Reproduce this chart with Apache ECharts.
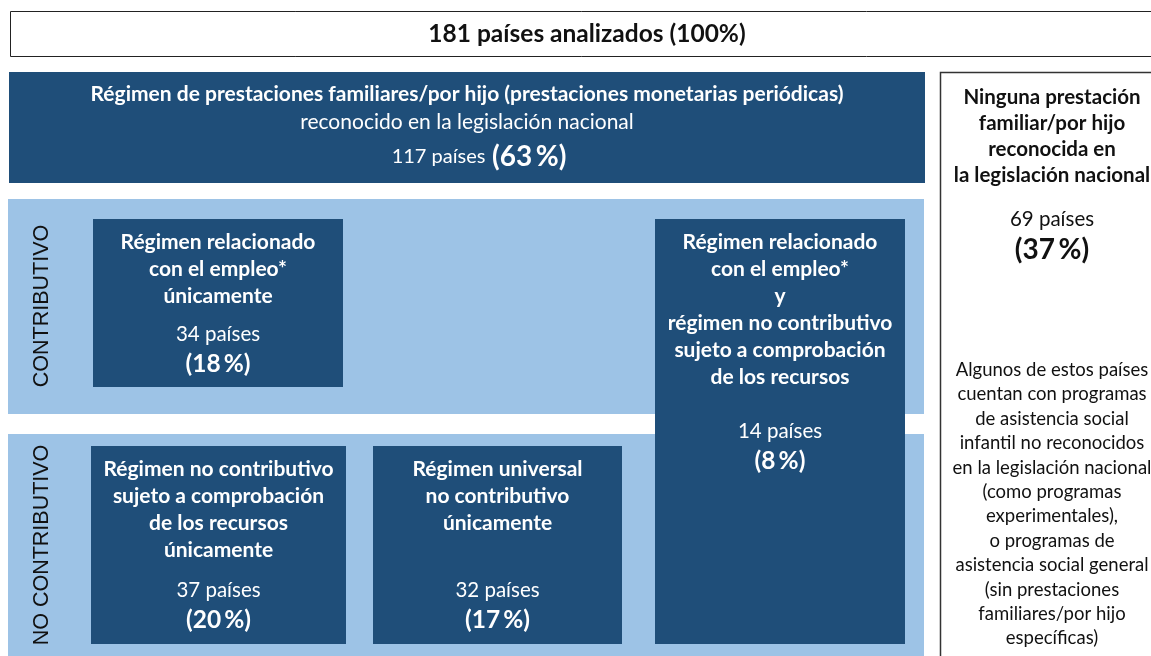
<!DOCTYPE html>
<html>
<head>
<meta charset="utf-8">
<script src="https://cdn.jsdelivr.net/npm/echarts@6/dist/echarts.min.js"></script>
<style>
  html, body {margin: 0; padding: 0; background: #fff;}
  #chart {width: 1151px; height: 656px;}
</style>
</head>
<body>
<div id="chart"></div>
<script>
// data
const analysedTitle = '181 países analizados (100%)';
const schemeTitle = 'Régimen de prestaciones familiares/por hijo (prestaciones monetarias periódicas)';
const schemeSubtitle = 'reconocido en la legislación nacional';
const schemeCount = 117;
const schemePercent = 63;

const groupLabels = ['CONTRIBUTIVO', 'NO CONTRIBUTIVO'];

const boxNames = [
    ['Régimen relacionado', 'con el empleo*', 'únicamente'],
    ['Régimen relacionado', 'con el empleo*', 'y', 'régimen no contributivo', 'sujeto a comprobación', 'de los recursos'],
    ['Régimen no contributivo', 'sujeto a comprobación', 'de los recursos', 'únicamente'],
    ['Régimen universal', 'no contributivo', 'únicamente']
];
const boxCounts = [34, 14, 37, 32];
const boxPercents = [18, 8, 20, 17];

const noneTitle = ['Ninguna prestación', 'familiar/por hijo', 'reconocida en', 'la legislación nacional'];
const noneCount = 69;
const nonePercent = 37;
const noneNote = [
    'Algunos de estos países', 'cuentan con programas', 'de asistencia social',
    'infantil no reconocidos', 'en la legislación nacional', '(como programas',
    'experimentales),', 'o programas de', 'asistencia social general',
    '(sin prestaciones', 'familiares/por hijo', 'específicas)'
];

// layout
const DARK = '#1f4e79';
const LIGHT = '#9dc3e6';
const FONT = 'Lato, "Open Sans", sans-serif';
const boxRects = [
    {x: 93, y: 219, w: 250, h: 168, countY: 334},
    {x: 655, y: 219, w: 250, h: 425, countY: 431},
    {x: 91, y: 446, w: 255, h: 198, countY: 590},
    {x: 373, y: 446, w: 249, h: 198, countY: 590}
];
const bands = [
    {x: 8, y: 199, w: 916, h: 215, labelY: 306},
    {x: 8, y: 434, w: 916, h: 230, labelY: 545}
];

const pct = v => '(' + v + '\u2009%)';

function txt(x, y, text, size, weight, fill) {
    return {
        type: 'text',
        x: x, y: y,
        style: {
            text: text, x: 0, y: 0,
            font: (weight || 'normal') + ' ' + size + 'px ' + FONT,
            fill: fill, align: 'center', verticalAlign: 'middle'
        }
    };
}

const g = [];

// top frame
g.push({type: 'rect', shape: {x: 10.5, y: 11.5, width: 1150, height: 45},
    style: {fill: '#fff', stroke: '#222', lineWidth: 1}});
g.push(txt(587, 34, analysedTitle, 24.5, 'bold', '#111'));

// main scheme box
g.push({type: 'rect', shape: {x: 9, y: 72, width: 916, height: 111}, style: {fill: DARK}});
g.push(txt(467, 94, schemeTitle, 21, 'bold', '#fff'));
g.push(txt(467, 122, schemeSubtitle, 21, 'normal', '#fff'));
g.push({
    type: 'text', x: 479, y: 157,
    style: {
        text: '{a|' + schemeCount + ' países}  {b|' + pct(schemePercent) + '}',
        x: 0, y: 0, align: 'center', verticalAlign: 'middle', fill: '#fff',
        rich: {
            a: {font: 'normal 20px ' + FONT, fill: '#fff'},
            b: {font: 'bold 28px ' + FONT, fill: '#fff'}
        }
    }
});

// bands
bands.forEach((b, i) => {
    g.push({type: 'rect', shape: {x: b.x, y: b.y, width: b.w, height: b.h}, style: {fill: LIGHT}});
    g.push({
        type: 'text', x: 42, y: b.labelY, rotation: Math.PI / 2,
        style: {
            text: groupLabels[i], x: 0, y: 0, align: 'center', verticalAlign: 'middle',
            font: 'normal 21.5px "Liberation Sans", Arial, sans-serif', fill: '#111'
        }
    });
});

// scheme boxes
boxRects.forEach((r, i) => {
    g.push({type: 'rect', shape: {x: r.x, y: r.y, width: r.w, height: r.h}, style: {fill: DARK}});
    const cx = r.x + r.w / 2;
    boxNames[i].forEach((line, j) => {
        g.push(txt(cx, r.y + 23 + j * 27, line, 21, 'bold', '#fff'));
    });
    g.push(txt(cx, r.countY, boxCounts[i] + ' países', 20.5, 'normal', '#fff'));
    g.push(txt(cx, r.countY + 30, pct(boxPercents[i]), 24.5, 'bold', '#fff'));
});

// right box (no benefit)
g.push({type: 'polyline', shape: {points: [[940.5, 680], [940.5, 72.5], [1160, 72.5]]},
    style: {fill: null, stroke: '#333', lineWidth: 1.5}});
noneTitle.forEach((line, j) => {
    g.push(txt(1052, 97 + j * 26, line, 20.5, 'bold', '#111'));
});
g.push(txt(1052, 219, noneCount + ' países', 20.5, 'normal', '#111'));
g.push(txt(1052, 250, pct(nonePercent), 28, 'bold', '#111'));
noneNote.forEach((line, j) => {
    g.push(txt(1052, 370 + j * 24.4, line, 18.5, 'normal', '#111'));
});

const chart = echarts.init(document.getElementById('chart'));
chart.setOption({
    backgroundColor: '#fff',
    animation: false,
    graphic: {elements: g}
});
</script>
</body>
</html>
